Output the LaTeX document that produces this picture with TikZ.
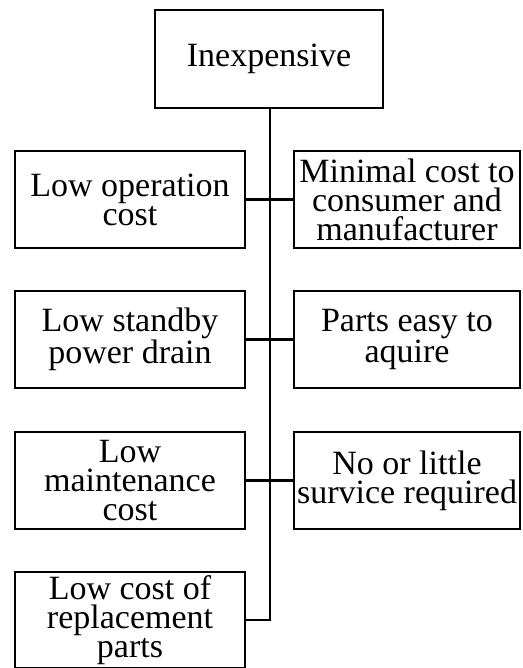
\documentclass[tikz,border=0pt]{standalone}
\usepackage{fontspec}
\setmainfont{Liberation Serif}
\begin{document}
\begin{tikzpicture}[x=1pt,y=-1pt,
  box/.style={draw=black,line width=2.8pt,rectangle,inner sep=0pt,align=center,
    font=\fontsize{34}{29}\selectfont},
  leftbox/.style={box,minimum width=230pt,minimum height=97pt},
  rightbox/.style={box,minimum width=226pt,minimum height=97pt},
  link/.style={draw=black,line width=2.8pt}]
\useasboundingbox (0,0) rectangle (522,668);

% root
\node[box,minimum width=228pt,minimum height=98pt] (top) at (269,59) {Inexpensive};

% left column
\node[leftbox] (l1) at (130,199.5) {Low operation\\cost};
\node[leftbox] (l2) at (130,339.5) {Low standby\\power drain};
\node[leftbox] (l3) at (130,480.5) {Low\\maintenance\\cost};
\node[leftbox,minimum height=96pt] (l4) at (130,620) {Low cost of\\replacement\\parts};

% right column
\node[rightbox] (r1) at (407,199.5) {Minimal cost to\\consumer and\\manufacturer};
\node[rightbox] (r2) at (407,339.5) {Parts easy to\\aquire};
\node[rightbox] (r3) at (407,480.5) {No or little\\survice required};

% trunk
\coordinate (trunkend) at (270,620);
\draw[link] (top.south -| trunkend) -- (trunkend) -- (l4.east);

% branches across the trunk
\draw[link] (l1.east) -- (r1.west);
\draw[link] (l2.east) -- (r2.west);
\draw[link] (l3.east) -- (r3.west);
\end{tikzpicture}
\end{document}
